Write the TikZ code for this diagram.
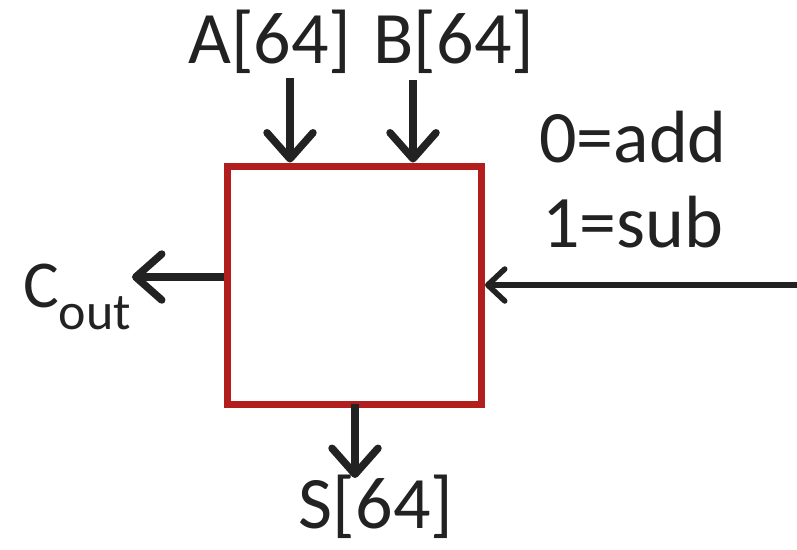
\documentclass[tikz,border=0pt]{standalone}
\usepackage{fontspec}
\setmainfont{Carlito}
\usetikzlibrary{arrows.meta}
\definecolor{boxred}{RGB}{178,30,30}
\definecolor{ink}{RGB}{34,34,34}
\begin{document}
\begin{tikzpicture}[x=1pt,y=-1pt,
  lbl/.style={text=ink,inner sep=0pt,anchor=base,font=\fontsize{74}{74}\selectfont},
  bigarrow/.style={draw=ink,line width=7.5pt,-{Straight Barb[length=26pt,width=46pt,round]}},
  thinarrow/.style={draw=ink,line width=5.5pt,-{Straight Barb[length=17pt,width=32pt,round]}}]
\useasboundingbox (0,0) rectangle (797,549);
\node[draw=boxred,line width=7pt,minimum width=254pt,minimum height=238pt,inner sep=0pt] (box) at (354.5,285) {};
\node[lbl] (A) at (270,63) {A[64]};
\node[lbl] (B) at (454,63) {B[64]};
\node[lbl] (S) at (376,528) {S[64]};
\node[lbl] (add) at (633,162) {0=add};
\node[lbl] (sub) at (633,247) {1=sub};
\node[text=ink,inner sep=0pt,anchor=base west] (cout) at (23,307)
  {\fontsize{67}{67}\selectfont C\raisebox{-22pt}{\fontsize{52}{52}\selectfont out}};
\coordinate (a0) at (290,78);
\coordinate (b0) at (413,80);
\coordinate (r0) at (797,285);
\draw[bigarrow] (a0) -- (a0 |- box.north);
\draw[bigarrow] (b0) -- (b0 |- box.north);
\draw[bigarrow] (box.west |- 0,277) -- (132,277);
\draw[bigarrow] (355,404) -- (355,478);
\draw[thinarrow] (r0) -- (r0 -| box.east);
\end{tikzpicture}
\end{document}
